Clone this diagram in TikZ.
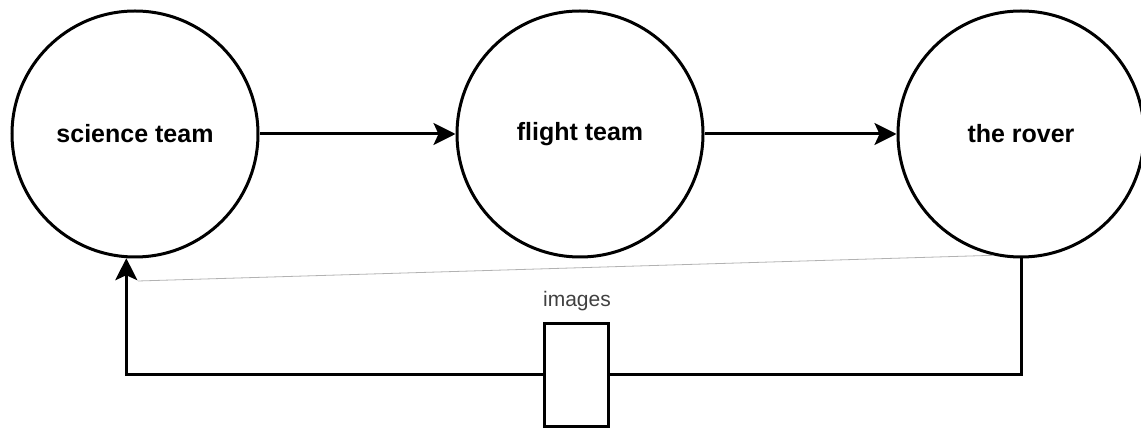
\documentclass[tikz,border=0pt]{standalone}
\usepackage{fontspec}
\setmainfont{Liberation Sans}
\usetikzlibrary{arrows.meta}

\begin{document}
\begin{tikzpicture}[
  x=1pt, y=-1pt,
  party/.style={draw, circle, line width=3pt, minimum size=246pt, inner sep=0pt,
    font=\fontsize{25}{30}\selectfont\bfseries},
  packet/.style={draw, rectangle, line width=3pt, fill=white, minimum width=64pt,
    minimum height=102pt, inner sep=0pt},
  flow/.style={draw, line width=3pt, -{Stealth[length=22pt, width=22pt, inset=5pt]}},
  faint/.style={draw, black!30, line width=0.8pt}
]
\useasboundingbox (0,0) rectangle (1141,430);
% Teams and rover
\node[party] (science) at (135,134) {science team};
\node[party] (flight) at (580,134) {flight team};
\node[party] (rover) at (1021,134) {the rover};
% Commands forward
\draw[flow] (science) -- (flight);
\draw[flow] (flight) -- (rover);
% Images back
\node[packet] (images) at (576.5,375) {};
\node[font=\fontsize{21}{25}\selectfont, text=black!75] (imglabel) at (577,301) {images};
\draw[flow] (rover.south) |- (images.east) (images.west) -| (science.-94);
\coordinate (faintend) at (138,281);
\draw[faint] (faintend) -- (rover.-103);
\end{tikzpicture}
\end{document}
